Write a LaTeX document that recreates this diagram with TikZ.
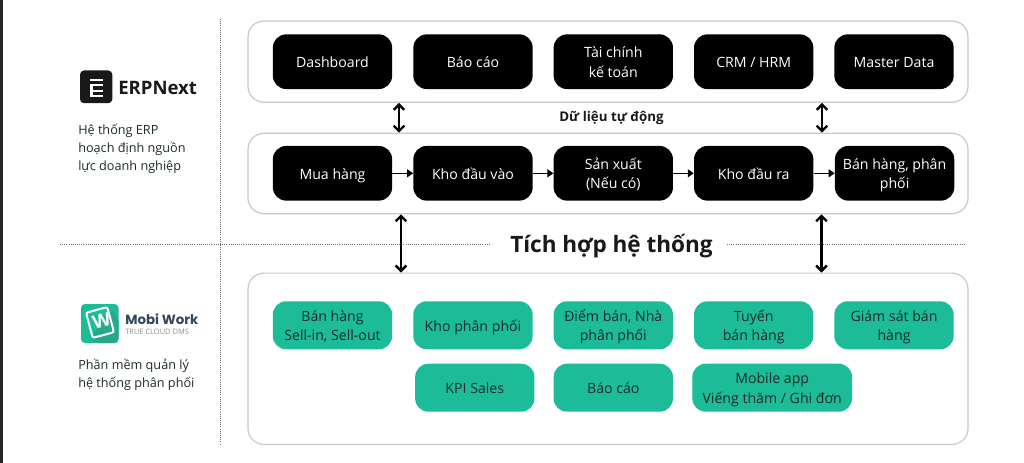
\documentclass[tikz,border=0pt]{standalone}
\usepackage{fontspec}
\usepackage{xcolor}
\usetikzlibrary{arrows.meta}
\setmainfont{Open Sans}
\newfontfamily\logofont{Poppins}
\definecolor{panelgray}{HTML}{C9C9C9}
\definecolor{dotgray}{HTML}{6E6E6E}
\definecolor{mintgreen}{HTML}{1DBC98}
\definecolor{mintdark}{HTML}{27A88B}
\definecolor{inkdark}{HTML}{1C2B2B}
\definecolor{slateblue}{HTML}{34475C}

\begin{document}
\begin{tikzpicture}[x=0.75pt,y=0.75pt]
\tikzstyle{every node}+=[inner sep=0pt,align=center]
\tikzstyle{panel}=[draw=panelgray,line width=0.9pt,rounded corners=12pt,fill=white,minimum width=540pt]
\tikzstyle{darkbox}=[fill=black,text=white,rounded corners=10pt,minimum width=89.5pt,minimum height=41pt,font=\fontsize{10.6}{14.5}\selectfont]
\tikzstyle{greenbox}=[fill=mintgreen,text=inkdark,rounded corners=10pt,minimum width=89.5pt,minimum height=36pt,font=\fontsize{10.6}{14.5}\selectfont]
\tikzstyle{oneline}=[text height=11pt,text depth=2pt]
\tikzstyle{twolines}=[text height=25.8pt,text depth=2.75pt]
\tikzstyle{sidetext}=[anchor=west,align=left,text=inkdark,font=\fontsize{9.5}{13.5}\selectfont]
\tikzstyle{divider}=[draw=dotgray,line width=0.6pt,densely dotted]
\tikzstyle{syncarrow}=[line width=1.8pt,{Straight Barb[length=4pt,width=8pt]}-{Straight Barb[length=4pt,width=8pt]}]
\tikzstyle{steparrow}=[line width=0.9pt,-{Triangle[length=4.5pt,width=6pt]}]
\useasboundingbox (0,0) rectangle (1024,-463);
\fill [white] (0,0) rectangle (1024,-463);
\fill [black!85] (0,0) rectangle (3,-463);

\draw [divider] (220,-19) -- (220,-444);
\draw [divider] (60,-244) -- (490,-244);
\draw [divider] (727,-244) -- (965,-244);

\node [panel,minimum height=61pt] (reportPanel) at (608,-61.6) {};
\node [panel,minimum height=60.3pt] (flowPanel) at (608,-173.5) {};
\node [panel,minimum height=128.5pt] (dmsPanel) at (608,-358.8) {};

\node [darkbox,oneline] (dashboard) at (332.5,-61.7) {Dashboard};
\node [darkbox,oneline] (reports) at (473,-61.7) {Báo cáo};
\node [darkbox,twolines] (finance) at (613.3,-61.7) {Tài chính\\kế toán};
\node [darkbox,oneline] (crm) at (753.7,-61.7) {CRM / HRM};
\node [darkbox,oneline] (master) at (894,-61.7) {Master Data};

\node [darkbox,oneline] (purchase) at (332.5,-173.3) {Mua hàng};
\node [darkbox,oneline] (inbound) at (473,-173.3) {Kho đầu vào};
\node [darkbox,twolines] (production) at (613.3,-173.3) {Sản xuất\\(Nếu có)};
\node [darkbox,oneline] (outbound) at (753.7,-173.3) {Kho đầu ra};
\node [darkbox,twolines] (sales) at (894.6,-173.3) {Bán hàng, phân\\phối};

\node [greenbox,twolines] (sellin) at (332.5,-325.3) {Bán hàng\\Sell-in, Sell-out};
\node [greenbox,oneline] (depot) at (473,-325.3) {Kho phân phối};
\node [greenbox,twolines] (outlet) at (613.3,-325.3) {Điểm bán, Nhà\\phân phối};
\node [greenbox,twolines] (route) at (753.7,-325.3) {Tuyến\\bán hàng};
\node [greenbox,twolines] (monitor) at (894,-325.3) {Giám sát bán\\hàng};
\node [greenbox,oneline] (kpi) at (474.8,-387.7) {KPI Sales};
\node [greenbox,oneline] (dmsreports) at (613.3,-387.7) {Báo cáo};
\node [greenbox,twolines,minimum width=119.8pt] (mobile) at (772.2,-387.7) {Mobile app\\Viếng thăm / Ghi đơn};

\draw [steparrow] (purchase) -- (inbound);
\draw [steparrow] (inbound) -- (production);
\draw [steparrow] (production) -- (outbound);
\draw [steparrow] (outbound) -- (sales);

\coordinate (syncLeft) at (399,-118);
\coordinate (syncRight) at (822,-118);
\coordinate (joinLeft) at (401,-244);
\coordinate (joinRight) at (821.5,-244);
\draw [syncarrow] (syncLeft |- reportPanel.south) -- (syncLeft |- flowPanel.north);
\draw [syncarrow] (syncRight |- reportPanel.south) -- (syncRight |- flowPanel.north);
\draw [syncarrow] (joinLeft |- flowPanel.south) -- (joinLeft |- dmsPanel.north);
\draw [syncarrow] (joinRight |- flowPanel.south) -- (joinRight |- dmsPanel.north);

\node [font=\fontsize{10}{12}\selectfont\bfseries,text=black!90] (autoData) at (611.5,-118) {Dữ liệu tự động};
\node [font=\fontsize{16.9}{20}\selectfont\bfseries,text=black!90] (integration) at (611.5,-246) {Tích hợp hệ thống};

\fill [black!90,rounded corners=3pt] (80,-70.5) rectangle (112.3,-103.2);
\fill [white] (89.5,-78.7) rectangle (102.6,-81);
\fill [white] (89.5,-84.3) rectangle (102.6,-97);
\fill [black!90] (92.8,-86.5) rectangle (102.6,-89.6);
\fill [black!90] (92.8,-92) rectangle (102.6,-94.8);
\node [anchor=west,font=\fontsize{13.9}{16}\selectfont\bfseries,text=black!90] (erpName) at (118,-88) {ERPNext};
\node [sidetext] (erpText) at (78,-148.5) {Hệ thống ERP\\hoạch định nguồn\\lực doanh nghiệp};

\fill [mintgreen,rounded corners=3pt] (81,-304) rectangle (118.5,-343);
\fill [mintdark,rounded corners=3pt] (118.5,-317) -- (118.5,-343) -- (95,-343) -- (90,-338) -- (112,-310) -- cycle;
\draw [white,line width=1.5pt,rounded corners=1.5pt,rotate around={15:(100,-322.5)}] (89,-309.5) rectangle (111,-335.5);
\node [rotate=15,text=white,font=\fontsize{14}{14}\selectfont\bfseries] (mobiMark) at (101.5,-321) {W};
\node [anchor=west,text=slateblue,font=\logofont\fontsize{10}{12}\selectfont\bfseries] (mobiName) at (125,-319) {Mobi Work};
\node [anchor=west,text=black!45,font=\fontsize{5.6}{7}\selectfont] (mobiTag) at (125,-332) {TRUE CLOUD DMS};
\node [sidetext] (dmsText) at (78,-375) {Phần mềm quản lý\\hệ thống phân phối};
\end{tikzpicture}
\end{document}
